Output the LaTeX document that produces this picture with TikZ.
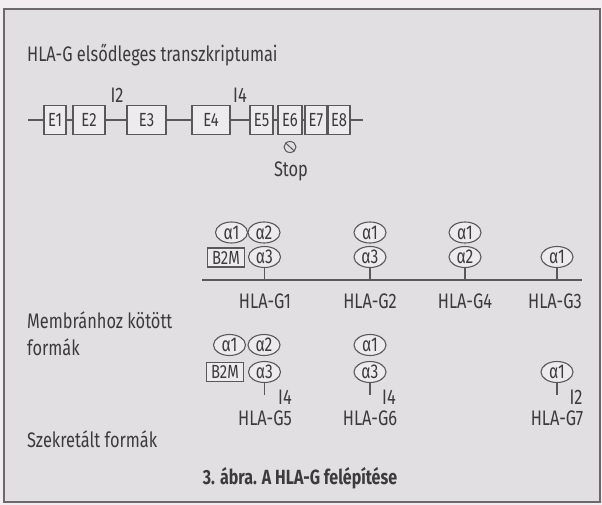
\documentclass[tikz,border=0pt]{standalone}
\usepackage{fontspec}
\setmainfont{Fira Sans}[FakeStretch=0.78]
\usetikzlibrary{shapes.geometric}
\definecolor{bgc}{HTML}{E2DFE2}
\definecolor{outc}{HTML}{F1EDF0}
\definecolor{txt}{HTML}{3C3A3C}
\definecolor{ln}{HTML}{5A585A}
\definecolor{boxf}{HTML}{EDEBED}
\begin{document}
\begin{tikzpicture}[x=1pt,y=-1pt,
  every node/.style={text=txt},
  lbl/.style={font=\fontsize{21}{23}\selectfont, inner sep=0pt},
  exon/.style={draw=ln, fill=boxf, line width=1.1pt, minimum height=29pt, inner sep=0pt, font=\fontsize{19}{21}\selectfont},
  dom/.style={ellipse, draw=ln, fill=boxf, line width=1.1pt, minimum width=32pt, minimum height=21pt, inner sep=0pt, font=\fontsize{20}{22}\selectfont},
  btwo/.style={draw=ln, fill=boxf, line width=1.1pt, minimum width=37pt, minimum height=19pt, inner sep=0pt, font=\fontsize{19}{21}\selectfont},
  wire/.style={draw=ln, line width=1.2pt}]
\useasboundingbox (0,0) rectangle (602,505);
\fill[outc] (0,0) rectangle (602,505);
\draw[fill=bgc, draw=ln!90, line width=1.8pt] (4,9) rectangle (600,502);

% title
\node[lbl, anchor=west] (title) at (27,55) {HLA-G elsődleges transzkriptumai};

% exons
\node[exon, minimum width=22pt] (E1) at (55,120) {E1};
\node[exon, minimum width=32pt] (E2) at (89,120) {E2};
\node[exon, minimum width=39pt] (E3) at (146.5,120) {E3};
\node[exon, minimum width=38pt] (E4) at (211,120) {E4};
\node[exon, minimum width=23pt] (E5) at (261.5,120) {E5};
\node[exon, minimum width=24pt] (E6) at (290,120) {E6};
\node[exon, minimum width=22pt] (E7) at (316,120) {E7};
\node[exon, minimum width=22pt] (E8) at (339,120) {E8};
\coordinate (L0) at (28,120);
\coordinate (L1) at (363,120);
\draw[wire] (L0) -- (E1) (E1) -- (E2) (E2) -- (E3) (E3) -- (E4) (E4) -- (E5)
  (E5) -- (E6) (E6) -- (E7) (E7) -- (E8) (E8) -- (L1);
\node[lbl] (i2top) at (117,95) {I2};
\node[lbl] (i4top) at (240,95) {I4};
\node[ellipse, draw=ln, line width=1pt, minimum width=12pt, minimum height=11pt, inner sep=0pt] (stopsym) at (290,147) {};
\draw[ln, line width=1pt] (stopsym.north west) -- (stopsym.south east);
\node[lbl] (stop) at (291,171) {Stop};

% membrane bound
\coordinate (M0) at (202,280);
\coordinate (M1) at (582,280);
\draw[wire] (M0) -- (M1);

\node[dom] (g1a1) at (231.5,232.5) {α1};
\node[dom] (g1a2) at (264,232.5) {α2};
\node[btwo] (g1b) at (226,257.5) {B2M};
\node[dom] (g1a3) at (264.5,257) {α3};
\coordinate (g1s) at (264.5,280);
\draw[wire] (g1a3) -- (g1s);

\node[dom] (g2a1) at (370,232.5) {α1};
\node[dom] (g2a3) at (370,257) {α3};
\coordinate (g2s) at (370,280);
\draw[wire] (g2a3) -- (g2s);

\node[dom] (g4a1) at (465,232.5) {α1};
\node[dom] (g4a2) at (465,257) {α2};
\coordinate (g4s) at (465,280);
\draw[wire] (g4a2) -- (g4s);

\node[dom] (g3a1) at (557,257) {α1};
\coordinate (g3s) at (557,280);
\draw[wire] (g3a1) -- (g3s);

\node[lbl] (hg1) at (265,301) {HLA-G1};
\node[lbl] (hg2) at (370,301) {HLA-G2};
\node[lbl] (hg4) at (465,301) {HLA-G4};
\node[lbl] (hg3) at (555,301) {HLA-G3};

\node[lbl, anchor=west] (memb) at (27,320) {Membránhoz kötött};
\node[lbl, anchor=west] (memb2) at (27,347) {formák};

% secreted
\node[dom] (g5a1) at (229.5,345) {α1};
\node[dom] (g5a2) at (264,345) {α2};
\node[btwo] (g5b) at (225,372) {B2M};
\node[dom] (g5a3) at (264.5,372) {α3};
\coordinate (g5s) at (264.5,395);
\draw[wire] (g5a3) -- (g5s);
\node[lbl] (g5i) at (285,397) {I4};

\node[dom] (g6a1) at (370,345) {α1};
\node[dom] (g6a3) at (370,372) {α3};
\coordinate (g6s) at (370,395);
\draw[wire] (g6a3) -- (g6s);
\node[lbl] (g6i) at (389,397) {I4};

\node[dom] (g7a1) at (557,372) {α1};
\coordinate (g7s) at (557,395);
\draw[wire] (g7a1) -- (g7s);
\node[lbl] (g7i) at (576,397) {I2};

\node[lbl] (hg5) at (265,418) {HLA-G5};
\node[lbl] (hg6) at (370,418) {HLA-G6};
\node[lbl] (hg7) at (557,418) {HLA-G7};

\node[lbl, anchor=west] (szek) at (27,439) {Szekretált formák};

\node[lbl, font=\fontsize{20.5}{23}\selectfont\bfseries] (cap) at (300,478) {3. ábra. A HLA-G felépítése};
\end{tikzpicture}
\end{document}
